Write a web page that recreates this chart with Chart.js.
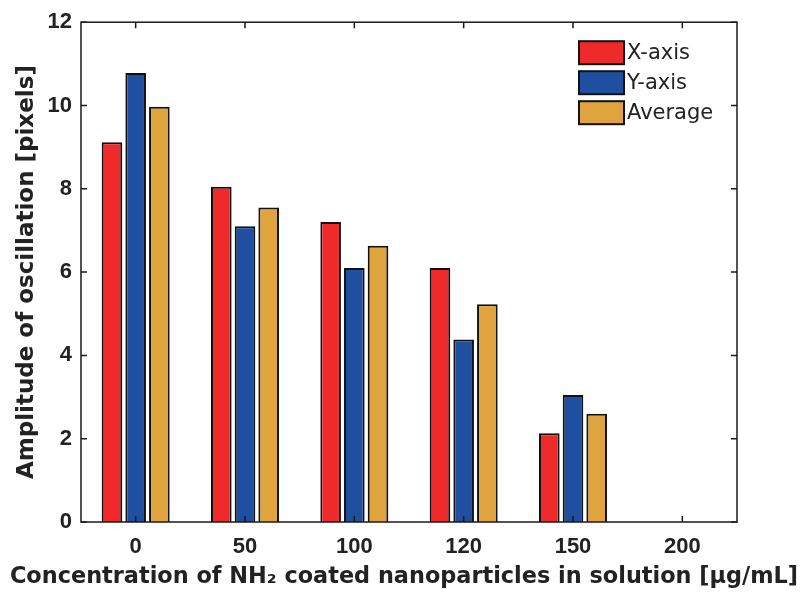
<!DOCTYPE html>
<html>
<head>
<meta charset="utf-8">
<script src="https://cdn.jsdelivr.net/npm/chart.js@4/dist/chart.umd.min.js"></script>
<style>
  html, body { margin: 0; padding: 0; background: #fff; }
  #wrap { width: 805px; height: 595px; }
</style>
</head>
<body>
<div id="wrap"><canvas id="ampChart"></canvas></div>
<script>
// concentrations (ug/mL) and oscillation amplitudes (pixels)
const categories = ['0', '50', '100', '120', '150', '200'];
const xAxisValues = [9.12, 8.05, 7.2, 6.1, 2.13, null];
const yAxisValues = [10.78, 7.1, 6.1, 4.38, 3.05, null];
const averageValues = [9.97, 7.55, 6.63, 5.23, 2.6, null];
const seriesNames = ['X-axis', 'Y-axis', 'Average'];
const seriesColors = ['#ee2a2a', '#1f4fa0', '#e0a43e'];
const yMin = 0, yMax = 12, yStep = 2;
const xTitle = 'Concentration of NH\u2082 coated nanoparticles in solution [\u03bcg/mL]';
const yTitle = 'Amplitude of oscillation [pixels]';

const textColor = '#222';
const titleFont = '"DejaVu Sans", "Liberation Sans", Arial, sans-serif';
const tickFont = '"Liberation Sans", Arial, sans-serif';

// box around the plot with inward tick marks on all four sides
const framePlugin = {
  id: 'frame',
  afterDatasetsDraw(chart) {
    const { ctx, chartArea: a, scales } = chart;
    const len = 6;
    ctx.save();
    ctx.strokeStyle = '#1a1a1a';
    ctx.lineWidth = 1.5;
    ctx.strokeRect(a.left, a.top, a.right - a.left, a.bottom - a.top);
    ctx.beginPath();
    scales.y.ticks.forEach((t, i) => {
      const py = scales.y.getPixelForTick(i);
      ctx.moveTo(a.left, py); ctx.lineTo(a.left + len, py);
      ctx.moveTo(a.right, py); ctx.lineTo(a.right - len, py);
    });
    scales.x.ticks.forEach((t, i) => {
      const px = scales.x.getPixelForTick(i);
      ctx.moveTo(px, a.bottom); ctx.lineTo(px, a.bottom - len);
      ctx.moveTo(px, a.top); ctx.lineTo(px, a.top + len);
    });
    ctx.stroke();
    ctx.restore();
  }
};

// x title drawn by hand so it can run wider than the plot
const xTitlePlugin = {
  id: 'xTitle',
  afterDraw(chart) {
    const { ctx, chartArea: a } = chart;
    ctx.save();
    ctx.font = 'bold 22.4px ' + titleFont;
    ctx.fillStyle = textColor;
    ctx.textAlign = 'center';
    ctx.textBaseline = 'middle';
    ctx.fillText(xTitle, (a.left + a.right) / 2 - 5, chart.height - 18);
    ctx.restore();
  }
};

// legend drawn inside the plot, top right
const insideLegend = {
  id: 'insideLegend',
  afterDraw(chart) {
    const { ctx, chartArea: a } = chart;
    const x0 = a.right - 158, y0 = a.top + 19;
    ctx.save();
    ctx.font = '21px ' + titleFont;
    ctx.textBaseline = 'middle';
    chart.data.datasets.forEach((ds, i) => {
      const y = y0 + i * 30;
      ctx.fillStyle = ds.backgroundColor;
      ctx.fillRect(x0, y, 45, 23);
      ctx.strokeStyle = '#111';
      ctx.lineWidth = 2;
      ctx.strokeRect(x0, y, 45, 23);
      ctx.fillStyle = textColor;
      ctx.fillText(ds.label, x0 + 48, y + 12);
    });
    ctx.restore();
  }
};

const seriesData = [xAxisValues, yAxisValues, averageValues];

new Chart(document.getElementById('ampChart'), {
  type: 'bar',
  data: {
    labels: categories,
    datasets: seriesData.map((vals, i) => ({
      label: seriesNames[i],
      data: vals,
      backgroundColor: seriesColors[i],
      borderColor: '#111',
      borderWidth: 2,
      categoryPercentage: 0.65,
      barPercentage: 0.87
    }))
  },
  options: {
    responsive: true,
    maintainAspectRatio: false,
    animation: false,
    layout: { padding: { top: 19, right: 68, left: 0, bottom: 0 } },
    plugins: { legend: { display: false }, tooltip: { enabled: false } },
    scales: {
      x: {
        grid: { display: false, drawTicks: false },
        border: { display: false },
        ticks: { color: textColor, padding: 12, font: { family: tickFont, size: 22, weight: 'bold' } },
        title: { display: false },
        afterFit(scale) { scale.height = 73; }
      },
      y: {
        min: yMin,
        max: yMax,
        grid: { display: false, drawTicks: false },
        border: { display: false },
        ticks: { stepSize: yStep, color: textColor, padding: 9, font: { family: tickFont, size: 22, weight: 'bold' } },
        title: {
          display: true,
          text: yTitle,
          color: textColor,
          padding: { top: 13, bottom: 0 },
          font: { family: titleFont, size: 23, weight: 'bold' }
        },
        afterFit(scale) { scale.width = 81; }
      }
    }
  },
  plugins: [framePlugin, xTitlePlugin, insideLegend]
});
</script>
</body>
</html>
